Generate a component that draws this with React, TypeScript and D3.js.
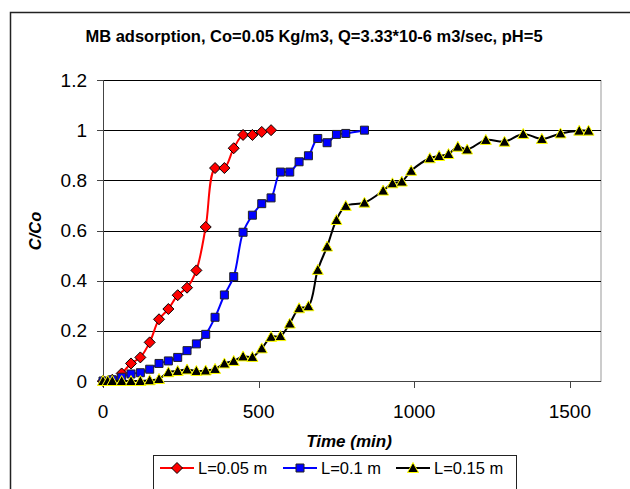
import React, { useEffect, useRef } from "react";
import * as d3 from "d3";

// C/Co readings against time (min)
const redTime = [0, 30, 60, 90, 120, 150, 180, 210, 240, 270, 300, 330, 360, 390, 420, 450, 480, 510, 540];
const redValue = [0, 0.005, 0.03, 0.07, 0.094, 0.154, 0.246, 0.287, 0.342, 0.372, 0.441, 0.614, 0.849, 0.849, 0.928, 0.981, 0.981, 0.993, 1.0];

const blueTime = [0, 30, 60, 90, 120, 150, 180, 210, 240, 270, 300, 330, 360, 390, 420, 450, 480, 510, 540, 570, 600, 630, 660, 690, 720, 750, 780, 840];
const blueValue = [0, 0.005, 0.015, 0.028, 0.033, 0.047, 0.07, 0.08, 0.094, 0.121, 0.148, 0.186, 0.254, 0.343, 0.416, 0.593, 0.661, 0.707, 0.73, 0.833, 0.833, 0.874, 0.898, 0.967, 0.95, 0.983, 0.987, 1.0];

const blackTime = [0, 15, 30, 60, 90, 120, 150, 180, 210, 240, 270, 300, 330, 360, 390, 420, 450, 480, 510, 540, 570, 600, 630, 660, 690, 720, 750, 780, 840, 900, 930, 960, 990, 1050, 1080, 1110, 1140, 1170, 1230, 1290, 1350, 1410, 1470, 1530, 1560];
const blackValue = [0, 0, 0, 0, 0, 0, 0.003, 0.008, 0.035, 0.04, 0.046, 0.04, 0.042, 0.048, 0.07, 0.08, 0.098, 0.096, 0.13, 0.176, 0.179, 0.229, 0.29, 0.298, 0.443, 0.536, 0.642, 0.698, 0.711, 0.759, 0.788, 0.795, 0.838, 0.888, 0.897, 0.905, 0.934, 0.923, 0.961, 0.954, 0.985, 0.965, 0.987, 0.998, 0.998];

const seriesNames = ["L=0.05 m", "L=0.1 m", "L=0.15 m"];
const xTicks = [0, 500, 1000, 1500];
const yTicks = [0, 0.2, 0.4, 0.6, 0.8, 1, 1.2];

const FONT = "'Liberation Sans', Arial, sans-serif";

const markerPath: Record<string, string> = {
  diamond: "M0,-5.5L5.5,0L0,5.5L-5.5,0Z",
  square: "M-4,-4H4V4H-4Z",
  triangle: "M0,-5.5L5.5,4.5L-5.5,4.5Z",
};

export default function App() {
  const ref = useRef<SVGSVGElement>(null);

  useEffect(() => {
    const svg = d3.select(ref.current);
    svg.selectAll("*").remove();

    const x = d3.scaleLinear().domain([0, 1600]).range([103, 601]);
    const y = d3.scaleLinear().domain([0, 1.2]).range([381, 80]);

    // outer chart frame
    svg.append("rect")
      .attr("x", 10.5).attr("y", 12.5).attr("width", 640).attr("height", 500)
      .attr("fill", "#fff").attr("stroke", "#222").attr("stroke-width", 1.5);

    svg.append("text")
      .attr("x", 314).attr("y", 42)
      .attr("text-anchor", "middle")
      .style("font-family", FONT).style("font-weight", "bold").style("font-size", "16.5px")
      .text("MB adsorption, Co=0.05 Kg/m3, Q=3.33*10-6 m3/sec, pH=5");

    // plot area border
    svg.append("rect")
      .attr("x", 103.5).attr("y", 80.5).attr("width", 497.5).attr("height", 301)
      .attr("fill", "none").attr("stroke", "#999");

    // gridlines
    svg.selectAll(".grid").data(yTicks.filter(d => d > 0)).enter().append("line")
      .attr("x1", 103).attr("x2", 601)
      .attr("y1", d => Math.round(y(d)) + 0.5).attr("y2", d => Math.round(y(d)) + 0.5)
      .attr("stroke", "#000");

    // y axis
    svg.append("line").attr("x1", 103.5).attr("x2", 103.5).attr("y1", 80).attr("y2", 381)
      .attr("stroke", "#444");
    svg.selectAll(".ytick").data(yTicks).enter().append("line")
      .attr("x1", 97).attr("x2", 103)
      .attr("y1", d => Math.round(y(d)) + 0.5).attr("y2", d => Math.round(y(d)) + 0.5)
      .attr("stroke", "#444");
    svg.selectAll(".ylab").data(yTicks).enter().append("text")
      .attr("x", 87).attr("y", d => y(d)).attr("dy", "0.35em")
      .attr("text-anchor", "end")
      .style("font-family", FONT).style("font-size", "19px")
      .text(d => d3.format("~g")(d));

    // x axis
    svg.append("line").attr("x1", 103).attr("x2", 601).attr("y1", 381.5).attr("y2", 381.5)
      .attr("stroke", "#444");
    svg.selectAll(".xtick").data(xTicks).enter().append("line")
      .attr("x1", d => Math.round(x(d)) + 0.5).attr("x2", d => Math.round(x(d)) + 0.5)
      .attr("y1", 381).attr("y2", 388)
      .attr("stroke", "#444");
    svg.selectAll(".xlab").data(xTicks).enter().append("text")
      .attr("x", d => x(d)).attr("y", 418)
      .attr("text-anchor", "middle")
      .style("font-family", FONT).style("font-size", "19px")
      .text(d => d);

    svg.append("text")
      .attr("x", 349).attr("y", 447)
      .attr("text-anchor", "middle")
      .style("font-family", FONT).style("font-weight", "bold").style("font-style", "italic").style("font-size", "17px")
      .text("Time (min)");

    svg.append("text")
      .attr("transform", "translate(41,231) rotate(-90)")
      .attr("text-anchor", "middle")
      .style("font-family", FONT).style("font-weight", "bold").style("font-style", "italic").style("font-size", "16.5px")
      .text("C/Co");

    const series = [
      { t: redTime, v: redValue, line: "#ff0000", fill: "#ff0000", stroke: "#000", marker: "diamond" },
      { t: blueTime, v: blueValue, line: "#0000ff", fill: "#0000ff", stroke: "#222", marker: "square" },
      { t: blackTime, v: blackValue, line: "#000", fill: "#000", stroke: "#ffff00", marker: "triangle" },
    ];

    const line = d3.line<[number, number]>()
      .x(d => x(d[0])).y(d => y(d[1]))
      .curve(d3.curveCatmullRom.alpha(0.5));

    series.forEach(s => {
      const pts: [number, number][] = s.t.map((t, i) => [t, s.v[i]]);
      svg.append("path").attr("d", line(pts))
        .attr("fill", "none").attr("stroke", s.line).attr("stroke-width", 2);
      svg.append("g").selectAll("path").data(pts).enter().append("path")
        .attr("d", markerPath[s.marker])
        .attr("transform", d => `translate(${x(d[0])},${y(d[1])})`)
        .attr("fill", s.fill).attr("stroke", s.stroke).attr("stroke-width", 1);
    });

    // legend
    const lg = svg.append("g");
    lg.append("rect").attr("x", 153.5).attr("y", 455.5).attr("width", 363).attr("height", 40)
      .attr("fill", "#fff").attr("stroke", "#222");
    const legendX = [160, 283, 396];
    series.forEach((s, i) => {
      const lx = legendX[i];
      lg.append("line").attr("x1", lx).attr("x2", lx + 34).attr("y1", 468).attr("y2", 468)
        .attr("stroke", s.line).attr("stroke-width", 2);
      lg.append("path").attr("d", markerPath[s.marker])
        .attr("transform", `translate(${lx + 17},468)`)
        .attr("fill", s.fill).attr("stroke", s.stroke);
      lg.append("text").attr("x", lx + 38).attr("y", 468).attr("dy", "0.35em")
        .style("font-family", FONT).style("font-size", "16.5px")
        .text(seriesNames[i]);
    });
  }, []);

  return (
    <svg ref={ref} width={630} height={489}
      style={{ position: "absolute", left: 0, top: 0, display: "block" }} />
  );
}
